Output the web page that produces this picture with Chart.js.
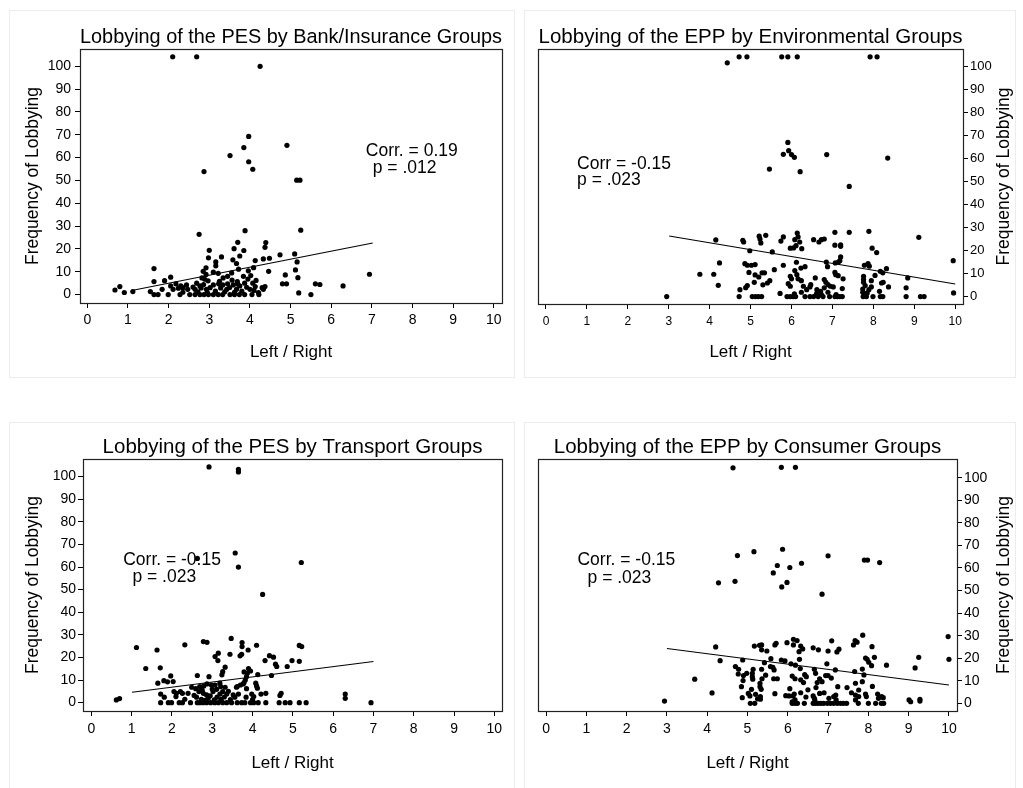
<!DOCTYPE html>
<html>
<head>
<meta charset="utf-8">
<script src="https://cdn.jsdelivr.net/npm/chart.js@4.4.1/dist/chart.umd.min.js"></script>
<style>
  body { margin: 0; background: #fff; }
  .box { position: absolute; outline: 1px solid #ececec; outline-offset: -1px; }
  .box canvas { position: absolute; left: 0; top: 0; }
</style>
</head>
<body>
<div class="box" style="left:9px;top:10px;width:506px;height:368px"><canvas id="c1" width="506" height="368"></canvas></div>
<div class="box" style="left:524px;top:10px;width:492px;height:368px"><canvas id="c2" width="492" height="368"></canvas></div>
<div class="box" style="left:9px;top:422px;width:506px;height:368px"><canvas id="c3" width="506" height="368"></canvas></div>
<div class="box" style="left:524px;top:422px;width:492px;height:368px"><canvas id="c4" width="492" height="368"></canvas></div>
<script>
const xTicks = [0, 1, 2, 3, 4, 5, 6, 7, 8, 9, 10];
const yTicks = [0, 10, 20, 30, 40, 50, 60, 70, 80, 90, 100];
const xTitle = 'Left / Right';
const yTitle = 'Frequency of Lobbying';

// [left/right position, frequency of lobbying]
const pesBankPoints = [
  [2.10,104.2],[2.69,104.2],[4.25,100],
  [3.97,69.3],[3.85,64.4],[4.91,65.4],[3.51,60.9],[3.97,58.2],[4.07,54.9],[2.87,53.9],[5.15,50.1],[5.23,50.1],
  [2.75,26.4],[3.88,28.0],[5.25,28.2],
  [3.70,22.9],[4.39,22.8],[4.37,20.7],[3.61,20.1],[3.85,19.3],[3.00,19.4],[3.75,16.9],[4.74,17.4],[5.10,17.8],
  [3.30,16.5],[2.98,16.1],[3.58,15.2],[4.33,15.6],[4.48,15.9],[4.13,14.9],[3.67,13.6],[3.16,14.3],[5.16,14.3],
  [3.16,12.6],[4.09,11.8],[3.72,11.1],[5.12,10.8],[2.92,11.7],[1.64,11.4],[4.46,10.2],[3.96,10.4],[2.85,10.2],
  [3.10,9.8],[3.22,9.3],[6.94,8.9],[4.87,8.6],[4.02,8.3],[3.84,8.0],[2.05,7.6],[5.18,7.4],[3.45,8.0],[3.34,7.3],[2.82,7.3],
  [1.90,6.1],[2.89,6.7],[3.56,6.3],[1.64,5.7],[3.69,5.7],[2.97,6.0],[4.07,5.0],[3.87,5.0],[4.80,4.7],[4.90,4.7],
  [5.61,4.7],[5.72,4.4],[6.29,3.8],[2.18,4.7],[2.30,3.8],[2.44,4.2],[2.05,3.8],[2.69,5.0],[2.77,3.8],[3.10,4.2],
  [3.23,4.7],[3.33,4.2],[3.45,4.7],[3.59,4.2],[3.75,3.8],[4.13,3.5],[4.37,3.5],[0.80,3.5],[0.68,2.0],[0.91,0.9],
  [1.12,1.3],[1.55,1.3],[1.84,2.3],[2.11,2.3],[2.47,2.3],[2.65,2.3],[2.93,2.3],[3.43,2.3],[3.67,2.3],[4.00,2.3],
  [4.33,2.3],[4.21,0.9],[5.20,0.7],
  [2.72,1.2],[2.80,2.9],[2.86,4.4],[2.95,1.0],[3.02,3.0],[3.15,1.5],[3.28,2.9],[3.38,1.2],[3.50,3.1],[3.62,1.0],
  [3.70,4.6],[3.80,1.5],[3.92,3.2],[2.60,3.3],[2.24,2.8],[2.35,1.0],[4.10,1.8],[4.30,3.0],[3.95,6.8],[3.25,5.8],
  [2.92,8.8],[3.55,9.5],[2.35,3.0],[4.15,6.2],
  [1.64,0],[1.74,0],[1.99,0],[2.28,0],[2.52,0],[2.65,0],[2.77,0],[2.87,0],[2.98,0],[3.10,0],[3.22,0],[3.33,0],
  [3.51,0],[3.62,0],[3.74,0],[3.87,0],[4.05,0],[4.22,0],[5.50,0]
];
const eppEnvPoints = [
  [4.43,101.4],[4.72,104],[4.91,104],[5.76,104],[5.91,104],[6.14,104],[7.92,104],[8.09,104],
  [5.91,66.9],[5.80,61.7],[5.93,63.3],[6.00,61.6],[6.07,60.4],[6.86,61.6],[8.35,60.1],[5.46,55.3],[6.21,54.2],[7.41,47.8],
  [7.41,27.9],[7.89,28.3],[7.06,27.9],[9.11,25.7],[5.37,26.6],[5.21,26.2],[5.23,25.0],[5.25,23.3],[5.80,25.9],
  [6.14,27.6],[6.16,25.9],[6.08,24.7],[6.20,23.7],[4.81,24.4],[4.83,23.7],[4.15,24.6],[5.74,24.1],[6.54,24.7],
  [6.67,23.7],[6.73,24.7],[6.80,25.0],[7.20,22.5],[7.20,21.8],[7.06,22.3],[5.97,21.0],[6.05,21.1],[6.11,22.1],
  [6.25,20.8],[4.98,19.9],[5.53,19.4],[7.97,21.0],[8.08,19.1],[7.20,17.2],[9.95,15.6],[7.07,14.6],[7.18,15.6],
  [7.14,14.9],[6.85,15.0],[4.24,14.6],[4.86,14.3],[4.92,13.6],[5.02,13.6],[5.11,13.9],[5.80,13.6],[6.12,14.9],
  [6.33,13.0],[6.23,12.4],[6.88,13.0],[7.78,13.6],[7.87,14.3],[7.90,13.2],[8.32,12.1],[8.17,11.0],[8.23,10.3],
  [8.04,9.2],[5.58,11.7],[4.96,10.5],[5.11,9.4],[5.20,8.5],[5.28,10.3],[5.34,10.3],[3.76,9.7],[4.10,9.7],
  [7.06,10.5],[7.08,9.5],[7.14,9.1],[6.08,11.3],[6.13,9.5],[5.97,8.8],[6.00,7.7],[6.16,7.7],[6.24,6.9],[6.58,8.1],
  [6.80,7.4],[6.84,6.2],[6.89,5.2],[6.95,4.5],[7.26,7.7],[7.76,8.8],[7.76,7.4],[7.76,6.2],[7.95,6.9],[8.20,5.9],
  [8.24,6.2],[8.84,8.1],[5.47,6.9],[5.41,5.9],[5.30,5.1],[5.09,6.2],[4.21,4.9],[4.92,4.8],[4.88,3.9],[4.74,3.0],
  [5.92,5.6],[5.97,4.5],[6.29,4.5],[6.47,5.2],[6.45,4.2],[6.37,3.0],[6.62,3.0],[6.71,2.3],[6.80,3.8],[7.02,4.2],
  [7.24,3.5],[7.80,4.8],[7.74,3.3],[7.89,3.0],[7.95,4.2],[8.37,4.2],[8.80,3.8],[8.15,2.3],[9.96,1.6],[6.24,1.9],
  [6.07,1.2],[5.72,1.4],[7.74,1.9],[7.80,1.0],[7.85,1.6],[6.73,0.9],[7.09,0.9],[6.61,1.2],[6.89,1.9],
  [2.95,0],[4.72,0],[5.04,0],[5.12,0],[5.19,0],[5.27,0],[5.89,0],[5.97,0],[6.04,0],[6.10,0],[6.33,0],[6.45,0],
  [6.54,0],[6.65,0],[6.77,0],[6.93,0],[7.06,0],[7.12,0],[7.18,0],[7.24,0],[7.75,0],[7.83,0],[7.99,0],[8.17,0],
  [8.23,0],[8.80,0],[9.15,0],[9.24,0]
];
const pesTransPoints = [
  [2.92,104.3],[3.65,103.2],[3.65,102.1],[3.57,66.2],[3.65,60.0],[5.21,62.0],[2.63,63.8],[4.25,47.9],
  [3.47,28.4],[2.78,27.0],[2.87,26.7],[3.74,26.6],[3.74,24.8],[2.32,25.6],[1.12,24.4],[1.63,23.3],[4.10,25.4],
  [5.16,25.3],[5.22,24.8],[3.44,21.4],[3.15,21.9],[3.07,20.4],[3.14,18.6],[3.69,20.7],[3.73,21.4],[3.89,23.3],
  [4.42,20.8],[4.52,20.1],[4.31,18.6],[4.98,18.6],[5.16,18.3],[4.57,17.0],[4.60,16.0],[4.86,16.0],[1.35,15.1],
  [1.71,15.4],[3.32,15.7],[3.26,13.7],[3.24,12.3],[3.90,15.1],[3.95,14.0],[3.79,13.6],[3.87,13.0],[4.13,12.4],
  [4.47,12.0],[2.63,12.0],[2.92,11.5],[1.97,11.8],[1.65,8.6],[1.80,9.7],[1.89,9.2],[2.03,9.3],[3.85,11.5],
  [3.82,10.0],[3.79,8.9],[3.85,6.2],[4.08,8.6],[4.10,7.4],[4.12,6.4],[3.62,7.1],[3.70,7.8],[3.77,8.3],[3.07,7.8],
  [3.19,8.6],[3.21,7.1],[2.87,8.3],[2.98,7.8],[2.69,7.1],[2.79,7.4],[2.49,6.8],[2.59,6.2],[3.32,6.8],[3.60,6.8],
  [3.02,4.9],[3.11,5.9],[1.72,3.8],[2.05,4.9],[2.11,4.1],[2.26,4.1],[2.21,4.9],[2.40,4.1],[2.67,4.9],[2.78,4.1],
  [2.86,3.4],[3.19,3.8],[3.26,4.9],[3.36,3.8],[3.52,3.4],[3.65,3.8],[3.98,3.8],[4.21,3.8],[4.33,4.1],[4.71,4.1],
  [4.68,3.2],[6.30,3.8],[6.30,1.9],[0.62,1.2],[0.70,1.8],[1.81,2.4],[2.10,2.7],[2.32,1.5],[2.61,2.4],[2.73,1.5],
  [2.90,1.9],[3.12,2.4],[3.22,1.5],[3.56,2.4],[3.84,2.4],[4.03,2.7],
  [2.75,5.5],[2.95,3.0],[3.00,6.0],[3.30,2.5],[3.40,5.0],[2.55,3.2],[2.82,1.0],[3.05,1.2],[3.45,1.3],[4.00,1.3],
  [1.72,0],[1.91,0],[1.99,0],[2.18,0],[2.26,0],[2.46,0],[2.63,0],[2.69,0],[2.77,0],[2.86,0],[2.96,0],[3.06,0],
  [3.15,0],[3.26,0],[3.36,0],[3.48,0],[3.62,0],[3.73,0],[3.81,0],[3.95,0],[4.03,0],[4.14,0],[4.33,0],[4.66,0],
  [4.81,0],[4.93,0],[5.16,0],[5.33,0],[6.94,0]
];
const eppConsPoints = [
  [4.64,104.4],[5.84,104.6],[6.19,104.6],
  [5.87,68.3],[5.16,67.2],[4.75,65.5],[7.00,65.4],[5.74,61.1],[6.05,60.2],[6.34,62.1],[5.64,57.8],[7.90,63.5],
  [7.98,63.5],[8.28,62.4],[4.28,53.4],[4.69,54.1],[5.98,53.6],[5.85,51.6],[6.85,48.4],
  [7.86,30.2],[9.98,29.6],[7.67,27.8],[7.72,27.1],[7.63,25.9],[7.09,27.7],[6.14,28.4],[6.23,27.8],[5.71,26.6],
  [5.68,25.9],[5.98,26.9],[5.17,25.4],[5.30,25.7],[5.35,25.9],[4.21,25.0],[5.48,23.2],[5.35,23.7],[6.14,25.9],
  [6.32,25.4],[6.37,24.1],[6.28,22.9],[6.63,24.6],[6.76,23.7],[7.00,23.2],[7.27,24.0],[7.22,22.8],[8.09,25.1],
  [4.32,18.9],[4.88,19.2],[5.42,18.0],[5.58,19.8],[5.84,19.2],[5.93,18.8],[6.29,19.5],[6.08,17.5],[6.19,16.9],
  [7.93,20.1],[7.97,19.5],[8.01,18.2],[8.15,20.4],[8.08,16.7],[8.45,16.9],[9.25,20.4],[9.16,15.7],[10.00,19.5],
  [6.97,17.5],[7.18,14.8],[7.85,15.2],[7.89,12.6],[7.66,14.1],[4.70,16.3],[4.78,15.1],[5.14,15.1],[5.12,13.3],
  [5.35,15.1],[5.57,16.3],[5.63,16.0],[5.66,14.8],[6.31,15.4],[6.66,15.1],[6.69,13.3],[4.77,13.0],[4.90,12.3],
  [4.98,13.3],[5.12,11.8],[5.13,10.7],[5.36,10.9],[5.65,10.9],[5.74,10.9],[6.11,12.1],[6.18,10.9],[6.32,10.4],
  [6.39,9.2],[6.46,11.8],[6.42,12.7],[6.79,10.9],[6.73,9.2],[6.85,9.6],[6.94,12.3],[7.00,12.3],[7.08,11.2],
  [7.24,7.4],[7.47,7.0],[7.68,8.9],[7.76,5.9],[7.85,9.6],[8.10,7.5],[8.23,4.1],[8.33,3.0],[3.69,10.7],[4.85,7.4],
  [4.89,10.1],[5.31,8.9],[5.31,7.4],[5.34,6.2],[5.10,6.2],[5.02,4.4],[5.06,3.3],[4.12,4.6],[5.68,4.3],[4.87,2.5],
  [5.32,3.0],[5.32,1.8],[5.95,3.4],[6.03,3.3],[6.13,3.3],[6.16,4.1],[6.32,4.7],[6.63,3.3],[6.66,2.2],[6.79,4.4],
  [6.90,4.7],[7.19,3.7],[7.14,3.0],[7.58,4.7],[7.68,3.7],[7.76,3.0],[7.93,4.1],[7.95,3.0],[7.68,1.5],[8.25,2.2],
  [8.37,2.5],[9.01,1.5],[9.05,0.7],[9.28,1.8],[9.28,1.0],[2.94,1.0],[6.11,0.7],[6.18,1.5],[6.67,1.5],[7.02,2.2],
  [7.20,1.5],[5.20,4.0],[5.25,2.0],[5.45,12.5],[6.50,6.0],[6.70,7.0],[6.05,6.5],[6.45,2.8],
  [5.07,0],[5.18,0],[6.11,0],[6.18,0],[6.24,0],[6.41,0],[6.63,0],[6.69,0],[6.75,0],[6.82,0],[6.89,0],[6.98,0],
  [7.06,0],[7.14,0],[7.23,0],[7.31,0],[7.38,0],[7.46,0],[7.75,0],[8.00,0],[8.18,0],[8.32,0],[8.38,0]
];

// fitted lines, start and end
const pesBankFit = [[1.09, 1.75], [7.02, 22.6]];
const eppEnvFit = [[3.01, 26.3], [10.0, 5.5]];
const pesTransFit = [[1.01, 4.6], [7.0, 18.2]];
const eppConsFit = [[3.0, 24.3], [10.0, 8.1]];

const FONT = "'Liberation Sans', Arial, Helvetica, sans-serif";
Chart.defaults.font.family = FONT;
Chart.defaults.color = '#000';

// box around the plot region + corr text + right hand axis title
const framePlugin = {
  id: 'frame',
  afterDraw(chart, args, opts) {
    const { ctx, chartArea: a, scales } = chart;
    ctx.save();
    ctx.strokeStyle = '#222';
    ctx.lineWidth = 1.2;
    ctx.strokeRect(Math.round(a.left) + 0.5, Math.round(a.top) + 0.5,
      Math.round(a.right - a.left), Math.round(a.bottom - a.top));

    ctx.fillStyle = '#000';
    ctx.font = '17.5px ' + FONT;
    ctx.textBaseline = 'alphabetic';
    ctx.textAlign = 'left';
    (opts.notes || []).forEach(n => {
      ctx.fillText(n.text, scales.x.getPixelForValue(n.x), scales.y.getPixelForValue(n.y));
    });

    if (opts.rightTitle) {
      ctx.font = '17.5px ' + FONT;
      ctx.translate(scales.y.right - 11.5, (a.top + a.bottom) / 2);
      ctx.rotate(-Math.PI / 2);
      ctx.textAlign = 'center';
      ctx.textBaseline = 'middle';
      ctx.fillText(yTitle, 0, 0);
    }
    ctx.restore();
  }
};

function makePanel(id, p) {
  const left = p.side === 'left';
  return new Chart(document.getElementById(id), {
    type: 'scatter',
    data: {
      datasets: [
        {
          data: p.points.map(d => ({ x: d[0], y: d[1] })),
          backgroundColor: '#000',
          borderWidth: 0,
          pointRadius: 2.6,
          pointHoverRadius: 2.6
        },
        {
          type: 'line',
          data: p.fit.map(d => ({ x: d[0], y: d[1] })),
          borderColor: '#000',
          borderWidth: 1.1,
          pointRadius: 0,
          fill: false
        }
      ]
    },
    options: {
      responsive: false,
      animation: false,
      events: [],
      layout: { padding: p.pad },
      plugins: {
        legend: { display: false },
        tooltip: { enabled: false },
        title: {
          display: true,
          text: p.title,
          fullSize: false,
          padding: 0,
          color: '#000',
          font: { size: 20.5, weight: 'normal', lineHeight: '24px' }
        },
        frame: { notes: p.notes, rightTitle: !left }
      },
      scales: {
        x: {
          type: 'linear',
          min: p.xr[0], max: p.xr[1],
          afterBuildTicks: s => { s.ticks = xTicks.map(v => ({ value: v })); },
          afterFit: s => { s.height = p.xh; },
          border: { display: false },
          grid: { drawOnChartArea: false, tickLength: 5, color: '#000' },
          ticks: { font: { size: p.xfs }, padding: p.xpad, color: '#000', maxRotation: 0, autoSkip: false },
          title: { display: true, text: xTitle, color: '#000', font: { size: 17 }, padding: { top: 0, bottom: p.xtpad } }
        },
        y: {
          type: 'linear',
          position: p.side,
          min: p.yr[0], max: p.yr[1],
          afterBuildTicks: s => { s.ticks = yTicks.map(v => ({ value: v })); },
          afterFit: s => { s.width = p.yw; },
          border: { display: false },
          grid: { drawOnChartArea: false, tickLength: 5, color: '#000' },
          ticks: { font: { size: p.yfs }, padding: p.ypad, color: '#000', autoSkip: false },
          title: { display: left, text: yTitle, color: '#000', font: { size: 17.5 }, padding: { top: 14, bottom: 0 } }
        }
      }
    },
    plugins: [framePlugin]
  });
}

makePanel('c1', {
  title: 'Lobbying of the PES by Bank/Insurance Groups',
  points: pesBankPoints, fit: pesBankFit, side: 'left',
  pad: { left: 0, right: 13, top: 15, bottom: 0 },
  xr: [-0.18, 10.2], yr: [-3.7, 107.6],
  xh: 75, yw: 71, xfs: 14, xpad: 4, yfs: 14, ypad: 4, xtpad: 15,
  notes: [{ text: 'Corr. = 0.19', x: 6.85, y: 60.7 }, { text: 'p = .012', x: 7.02, y: 53.3 }]
});
makePanel('c2', {
  title: 'Lobbying of the EPP by Environmental Groups',
  points: eppEnvPoints, fit: eppEnvFit, side: 'right',
  pad: { left: 14, right: 0, top: 15, bottom: 0 },
  xr: [-0.195, 10.19], yr: [-3.2, 107.4],
  xh: 74, yw: 53, xfs: 12, xpad: 5, yfs: 13, ypad: 2, xtpad: 15,
  notes: [{ text: 'Corr = -0.15', x: 0.76, y: 55.5 }, { text: 'p = .023', x: 0.76, y: 48.2 }]
});
makePanel('c3', {
  title: 'Lobbying of the PES by Transport Groups',
  points: pesTransPoints, fit: pesTransFit, side: 'left',
  pad: { left: 0, right: 13, top: 13, bottom: 0 },
  xr: [-0.207, 10.19], yr: [-3.7, 107.8],
  xh: 79, yw: 74, xfs: 14, xpad: 5, yfs: 14, ypad: 2, xtpad: 16,
  notes: [{ text: 'Corr. = -0.15', x: 0.79, y: 61 }, { text: 'p = .023', x: 1.02, y: 53.2 }]
});
makePanel('c4', {
  title: 'Lobbying of the EPP by Consumer Groups',
  points: eppConsPoints, fit: eppConsFit, side: 'right',
  pad: { left: 14, right: 0, top: 13, bottom: 0 },
  xr: [-0.2, 10.2], yr: [-3.4, 108.3],
  xh: 79, yw: 59, xfs: 14, xpad: 5, yfs: 14, ypad: 2, xtpad: 16,
  notes: [{ text: 'Corr. = -0.15', x: 0.78, y: 61.4 }, { text: 'p = .023', x: 1.03, y: 53.5 }]
});
</script>
</body>
</html>
